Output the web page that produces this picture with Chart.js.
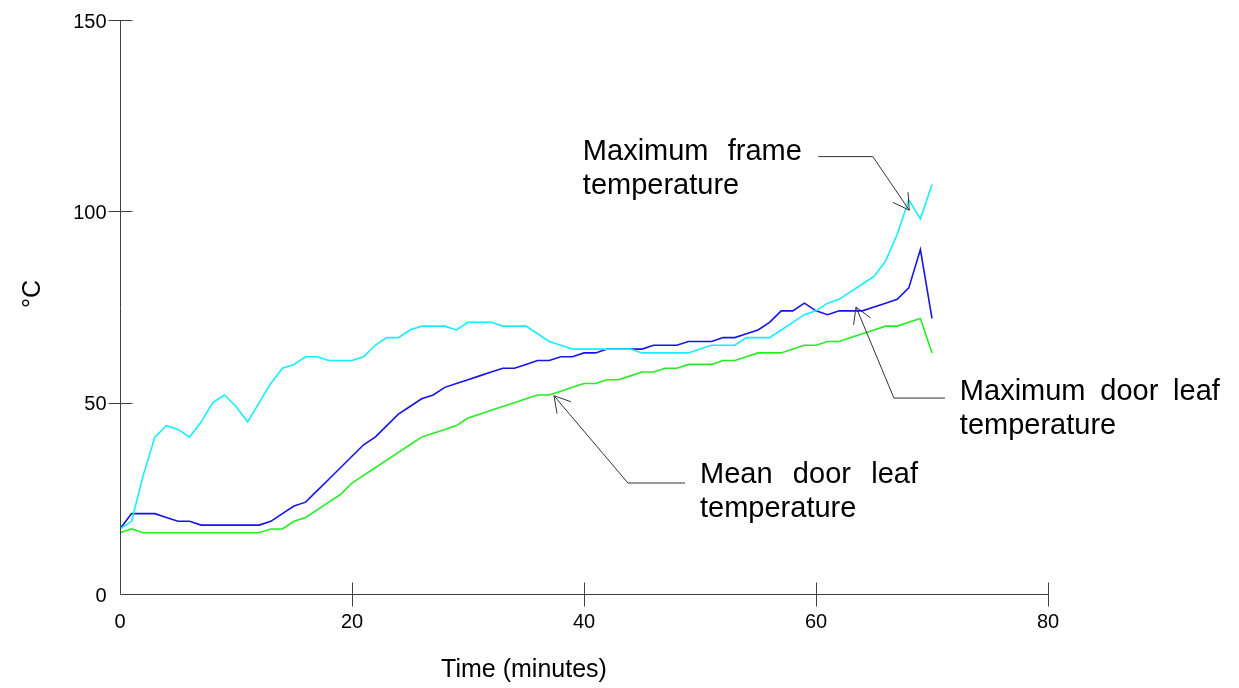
<!DOCTYPE html>
<html>
<head>
<meta charset="utf-8">
<script src="https://cdn.jsdelivr.net/npm/chart.js@4.4.1/dist/chart.umd.min.js"></script>
<style>
  html, body { margin: 0; padding: 0; background: #fff; }
  #wrap { width: 1239px; height: 688px; }
</style>
</head>
<body>
<div id="wrap"><canvas id="chart" width="1239" height="688"></canvas></div>
<script>
// Time axis (minutes)
const minutes = [0, 1, 2, 3, 4, 5, 6, 7, 8, 9, 10, 11, 12, 13, 14, 15, 16, 17, 18, 19,
    20, 21, 22, 23, 24, 25, 26, 27, 28, 29, 30, 31, 32, 33, 34, 35, 36, 37, 38, 39,
    40, 41, 42, 43, 44, 45, 46, 47, 48, 49, 50, 51, 52, 53, 54, 55, 56, 57, 58, 59,
    60, 61, 62, 63, 64, 65, 66, 67, 68, 69, 70];

// Temperatures (°C)
const maxFrameTemp = [17, 19, 31, 41, 44, 43, 41, 45, 50, 52, 49, 45, 50, 55, 59, 60, 62, 62, 61, 61,
    61, 62, 65, 67, 67, 69, 70, 70, 70, 69, 71, 71, 71, 70, 70, 70, 68, 66, 65, 64,
    64, 64, 64, 64, 64, 63, 63, 63, 63, 63, 64, 65, 65, 65, 67, 67, 67, 69, 71, 73,
    74, 76, 77, 79, 81, 83, 87, 94, 103, 98, 107];

const maxLeafTemp = [17, 21, 21, 21, 20, 19, 19, 18, 18, 18, 18, 18, 18, 19, 21, 23, 24, 27, 30, 33,
    36, 39, 41, 44, 47, 49, 51, 52, 54, 55, 56, 57, 58, 59, 59, 60, 61, 61, 62, 62,
    63, 63, 64, 64, 64, 64, 65, 65, 65, 66, 66, 66, 67, 67, 68, 69, 71, 74, 74, 76,
    74, 73, 74, 74, 74, 75, 76, 77, 80, 90, 72];

const meanLeafTemp = [16, 17, 16, 16, 16, 16, 16, 16, 16, 16, 16, 16, 16, 17, 17, 19, 20, 22, 24, 26,
    29, 31, 33, 35, 37, 39, 41, 42, 43, 44, 46, 47, 48, 49, 50, 51, 52, 52, 53, 54,
    55, 55, 56, 56, 57, 58, 58, 59, 59, 60, 60, 60, 61, 61, 62, 63, 63, 63, 64, 65,
    65, 66, 66, 67, 68, 69, 70, 70, 71, 72, 63];

// Axis ticks
const xTicks = [0, 20, 40, 60, 80];
const yTicks = [0, 50, 100, 150];

// Callout labels, in data coordinates [minutes, °C]
const labelTexts = [['Maximum frame', 'temperature'], ['Maximum door leaf', 'temperature'], ['Mean door leaf', 'temperature']];
const labelAnchors = [[39.9, 115.5], [72.4, 52.8], [50.0, 31.1]];
const arrowEnds = [[60.2, 114.3], [71.12, 51.2], [48.71, 29.0]];
const arrowElbows = [[64.9, 114.3], [66.72, 51.2], [43.79, 29.0]];
const arrowTips = [[68.04, 100.3], [63.45, 75.0], [37.41, 51.8]];

const FONT = '"Liberation Sans", Arial, sans-serif';

function toXY(arr) {
    return arr.map((v, i) => ({ x: minutes[i], y: v }));
}

// axes, ticks, labels and callouts drawn by hand
const decorPlugin = {
    id: 'decor',
    afterDraw(chart) {
        const { ctx, chartArea: a, scales: { x, y } } = chart;
        ctx.save();

        // axis lines + crossing ticks
        ctx.strokeStyle = '#404040';
        ctx.lineWidth = 1;
        ctx.beginPath();
        const ax = Math.round(a.left) + 0.5;
        const ay = Math.round(a.bottom) + 0.5;
        ctx.moveTo(ax, a.top);
        ctx.lineTo(ax, ay);
        ctx.lineTo(a.right, ay);
        yTicks.forEach(v => {
            if (v === 0) return;
            const py = Math.round(y.getPixelForValue(v)) + 0.5;
            ctx.moveTo(ax - 12, py);
            ctx.lineTo(ax + 12, py);
        });
        xTicks.forEach(v => {
            if (v === 0) return;
            const px = Math.round(x.getPixelForValue(v)) + 0.5;
            ctx.moveTo(px, ay - 12);
            ctx.lineTo(px, ay + 12);
        });
        ctx.stroke();

        // tick labels
        ctx.fillStyle = '#000';
        ctx.font = '20px ' + FONT;
        ctx.textBaseline = 'alphabetic';
        ctx.textAlign = 'right';
        yTicks.forEach(v => {
            ctx.fillText(String(v), ax - 14, y.getPixelForValue(v) + 7.5);
        });
        ctx.textAlign = 'center';
        xTicks.forEach(v => {
            ctx.fillText(String(v), x.getPixelForValue(v), ay + 33);
        });

        // axis titles
        ctx.font = '25px ' + FONT;
        ctx.fillText('Time (minutes)', 524, 677);
        ctx.save();
        ctx.translate(40, 294);
        ctx.rotate(-Math.PI / 2);
        ctx.fillText('°C', 0, 0);
        ctx.restore();

        // callouts
        const justify = [219, 260, 218];
        ctx.strokeStyle = '#333';
        ctx.lineWidth = 1;
        labelTexts.forEach((lines, k) => {
            const tip = [x.getPixelForValue(arrowTips[k][0]), y.getPixelForValue(arrowTips[k][1])];
            const elb = [x.getPixelForValue(arrowElbows[k][0]), y.getPixelForValue(arrowElbows[k][1])];
            const end = [x.getPixelForValue(arrowEnds[k][0]), y.getPixelForValue(arrowEnds[k][1])];
            ctx.beginPath();
            ctx.moveTo(end[0], end[1]);
            ctx.lineTo(elb[0], elb[1]);
            ctx.lineTo(tip[0], tip[1]);
            const ang = Math.atan2(elb[1] - tip[1], elb[0] - tip[0]);
            [-0.53, 0.53].forEach(d => {
                ctx.moveTo(tip[0], tip[1]);
                ctx.lineTo(tip[0] + 18 * Math.cos(ang + d), tip[1] + 18 * Math.sin(ang + d));
            });
            ctx.stroke();

            const lx = x.getPixelForValue(labelAnchors[k][0]);
            const ly = y.getPixelForValue(labelAnchors[k][1]);
            ctx.font = '29px ' + FONT;
            ctx.textAlign = 'left';
            ctx.textBaseline = 'middle';
            lines.forEach((line, j) => {
                const yy = ly + j * 34;
                const words = line.split(' ');
                if (j === 0 && words.length > 1) {
                    const used = words.reduce((s, w) => s + ctx.measureText(w).width, 0);
                    const gap = (justify[k] - used) / (words.length - 1);
                    let cx = lx;
                    words.forEach(w => {
                        ctx.fillText(w, cx, yy);
                        cx += ctx.measureText(w).width + gap;
                    });
                } else {
                    ctx.fillText(line, lx, yy);
                }
            });
        });

        ctx.restore();
    }
};

const ctx = document.getElementById('chart').getContext('2d');
new Chart(ctx, {
    type: 'line',
    data: {
        datasets: [
            { label: 'Maximum frame temperature', data: toXY(maxFrameTemp), borderColor: '#14eeff' },
            { label: 'Maximum door leaf temperature', data: toXY(maxLeafTemp), borderColor: '#1515e8' },
            { label: 'Mean door leaf temperature', data: toXY(meanLeafTemp), borderColor: '#22ee22' }
        ]
    },
    options: {
        responsive: false,
        animation: false,
        devicePixelRatio: 1,
        layout: { padding: { top: 20, right: 191, left: 0, bottom: 0 } },
        elements: {
            line: { borderWidth: 1.6, tension: 0, fill: false },
            point: { radius: 0, hoverRadius: 0 }
        },
        plugins: { legend: { display: false }, tooltip: { enabled: false } },
        scales: {
            x: {
                type: 'linear', min: 0, max: 80,
                ticks: { stepSize: 20, display: false },
                grid: { display: false }, border: { display: false },
                afterFit: s => { s.height = 94; }
            },
            y: {
                min: 0, max: 150,
                ticks: { stepSize: 50, display: false },
                grid: { display: false }, border: { display: false },
                afterFit: s => { s.width = 120; }
            }
        }
    },
    plugins: [decorPlugin]
});
</script>
</body>
</html>
